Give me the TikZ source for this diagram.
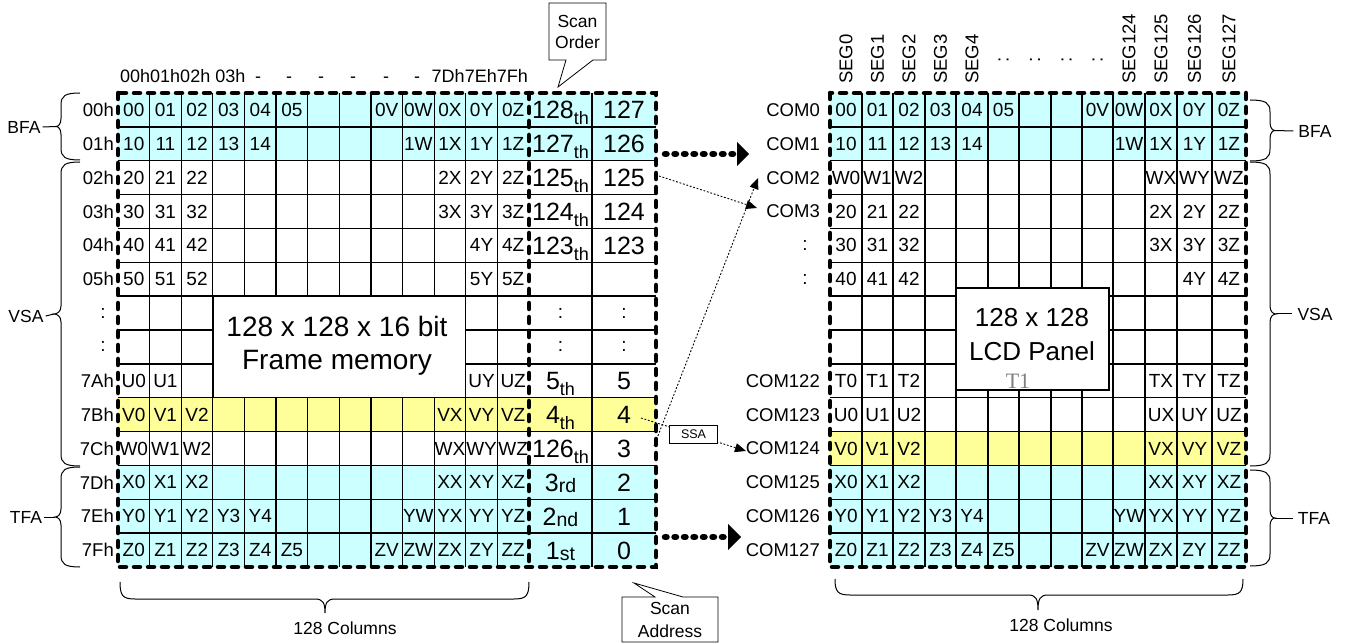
\documentclass[tikz,border=0pt]{standalone}
\usepackage{fontspec}
\setmainfont{Liberation Sans}
\newfontfamily\tserif{Liberation Serif}
\usetikzlibrary{arrows.meta}
\definecolor{cyanfill}{HTML}{CCFFFF}
\definecolor{yelfill}{HTML}{FFFF99}
\newcommand\fs[1]{\fontsize{#1}{#1}\selectfont}
\newcommand\suf[1]{\raisebox{-6pt}{\fs{18}#1}}
\newcommand\sufb[1]{\raisebox{-1.5pt}{\fs{19.5}#1}}
\newcommand\rcx{{846,877.5,909,940.5,972,1003.5,1035,1066.5,1097.5,1129,1161,1194.5,1229}}
\newcommand\Lcells[2]{\foreach \c/\t in {#2}{\node[cell] (L-#1-\c) at ({118+(\c+0.5)*31.615},{93+(#1+0.5)*33.857}) {\t};}}
\newcommand\Rcells[2]{\foreach \c/\t in {#2}{\pgfmathsetmacro\rxx{\rcx[\c]}\node[cell] (R-#1-\c) at (\rxx,{93+(#1+0.5)*33.857}) {\t};}}
% side brace: #1 end x, #2 vertical x, #3 tip x, #4 y1, #5 y2, #6 tip name
\newcommand\SBrace[6]{%
 \pgfmathsetmacro\bym{(#4+#5)/2}
 \draw[bracestyle] (#1,#4) .. controls ({#2+0.2*(#1-#2)},#4) and (#2,{#4+3}) .. (#2,{#4+12})
   -- (#2,{\bym-8}) .. controls (#2,{\bym-2}) and ({#3+0.4*(#2-#3)},\bym) .. (#3,\bym) coordinate (#6)
   .. controls ({#3+0.4*(#2-#3)},\bym) and (#2,{\bym+2}) .. (#2,{\bym+8})
   -- (#2,{#5-12}) .. controls (#2,{#5-3}) and ({#2+0.2*(#1-#2)},#5) .. (#1,#5);}
% down brace: #1 x1, #2 x2, #3 tip x, #4 end y, #5 horizontal y, #6 tip y, #7 name
\newcommand\DBrace[7]{%
 \draw[bracestyle] (#1,#4) .. controls (#1,{#5-3}) and ({#1+3},#5) .. ({#1+15},#5)
   -- ({#3-10},#5) .. controls ({#3-2},#5) and (#3,{#5+4}) .. (#3,#6) coordinate (#7)
   .. controls (#3,{#5+4}) and ({#3+2},#5) .. ({#3+10},#5)
   -- ({#2-15},#5) .. controls ({#2-3},#5) and (#2,{#5-3}) .. (#2,#4);}
\tikzset{
 cell/.style={inner sep=0pt, font=\fs{19}},
 rowlab/.style={inner sep=0pt, anchor=east, font=\fs{18.5}},
 big/.style={inner sep=0pt, anchor=base, font=\fs{25}},
 lab/.style={inner sep=0pt, font=\fs{17.5}},
 hdr/.style={inner sep=0pt, anchor=base, font=\fs{18}},
 seg/.style={inner sep=0pt, rotate=90, anchor=west, font=\fs{18.5}},
 gridline/.style={line width=1.3pt},
 border/.style={line width=4.5pt, dash pattern=on 6pt off 8pt, line cap=round},
 thickdots/.style={line width=6.5pt, dash pattern=on 1.5pt off 8pt, line cap=round},
 thindots/.style={line width=0.9pt, dash pattern=on 1.8pt off 1.8pt, -{Triangle[length=11pt,width=9pt]}},
 bracestyle/.style={line width=1pt},
 callout/.style={fill=white, line width=0.8pt},
}
\begin{document}
\begin{tikzpicture}[x=1pt,y=-1pt]
\useasboundingbox (0,0) rectangle (1350,644);
% fills
\fill[cyanfill] (118,93) rectangle (656,160.71);
\fill[yelfill] (118,397.71) rectangle (656,431.57);
\fill[cyanfill] (118,465.43) rectangle (656,567);
\fill[cyanfill] (830,93) rectangle (1246,160.71);
\fill[yelfill] (830,431.57) rectangle (1246,465.43);
\fill[cyanfill] (830,465.43) rectangle (1246,567);
% grid lines
\foreach \i in {1,...,12} \draw[gridline] ({118+\i*31.615},93) -- ({118+\i*31.615},567);
\draw[gridline] (592,93) -- (592,567);
\foreach \j in {1,...,13} \draw[gridline] (118,{93+\j*33.857}) -- (656,{93+\j*33.857});
\foreach \x in {862,893,925,956,988,1019,1051,1082,1113,1145,1177,1212} \draw[gridline] (\x,93) -- (\x,567);
\foreach \j in {1,...,13} \draw[gridline] (830,{93+\j*33.857}) -- (1246,{93+\j*33.857});
% white boxes
\draw[gridline, fill=white] (212.85,296.14) rectangle (465.77,397.71);
\draw[gridline, fill=white] (956,288) rectangle (1109,390);
\node[inner sep=0pt, align=center, font=\fontsize{28}{33}\selectfont] (fm) at (337,346) {128 x 128 x 16 bit\\Frame memory};
\node[inner sep=0pt, align=center, font=\fontsize{26}{34}\selectfont] (lcd) at (1032,335) {128 x 128\\LCD Panel};
\node[inner sep=0pt, text=gray, font=\tserif\fs{22}] (t1) at (1018,381) {T1};
% dashed borders
\draw[border] (118,93) rectangle (656,567);
\draw[border] (529,93) -- (529,567);
\draw[border] (830,93) rectangle (1246,567);
% left cells
\Lcells{0}{0/00,1/01,2/02,3/03,4/04,5/05,8/0V,9/0W,10/0X,11/0Y,12/0Z}
\Lcells{1}{0/10,1/11,2/12,3/13,4/14,9/1W,10/1X,11/1Y,12/1Z}
\Lcells{2}{0/20,1/21,2/22,10/2X,11/2Y,12/2Z}
\Lcells{3}{0/30,1/31,2/32,10/3X,11/3Y,12/3Z}
\Lcells{4}{0/40,1/41,2/42,11/4Y,12/4Z}
\Lcells{5}{0/50,1/51,2/52,11/5Y,12/5Z}
\Lcells{8}{0/U0,1/U1,11/UY,12/UZ}
\Lcells{9}{0/V0,1/V1,2/V2,10/VX,11/VY,12/VZ}
\Lcells{10}{0/W0,1/W1,2/W2,10/WX,11/WY,12/WZ}
\Lcells{11}{0/X0,1/X1,2/X2,10/XX,11/XY,12/XZ}
\Lcells{12}{0/Y0,1/Y1,2/Y2,3/Y3,4/Y4,9/YW,10/YX,11/YY,12/YZ}
\Lcells{13}{0/Z0,1/Z1,2/Z2,3/Z3,4/Z4,5/Z5,8/ZV,9/ZW,10/ZX,11/ZY,12/ZZ}
% right cells
\Rcells{0}{0/00,1/01,2/02,3/03,4/04,5/05,8/0V,9/0W,10/0X,11/0Y,12/0Z}
\Rcells{1}{0/10,1/11,2/12,3/13,4/14,9/1W,10/1X,11/1Y,12/1Z}
\Rcells{2}{0/W0,1/W1,2/W2,10/WX,11/WY,12/WZ}
\Rcells{3}{0/20,1/21,2/22,10/2X,11/2Y,12/2Z}
\Rcells{4}{0/30,1/31,2/32,10/3X,11/3Y,12/3Z}
\Rcells{5}{0/40,1/41,2/42,11/4Y,12/4Z}
\Rcells{8}{0/T0,1/T1,2/T2,10/TX,11/TY,12/TZ}
\Rcells{9}{0/U0,1/U1,2/U2,10/UX,11/UY,12/UZ}
\Rcells{10}{0/V0,1/V1,2/V2,10/VX,11/VY,12/VZ}
\Rcells{11}{0/X0,1/X1,2/X2,10/XX,11/XY,12/XZ}
\Rcells{12}{0/Y0,1/Y1,2/Y2,3/Y3,4/Y4,9/YW,10/YX,11/YY,12/YZ}
\Rcells{13}{0/Z0,1/Z1,2/Z2,3/Z3,4/Z4,5/Z5,8/ZV,9/ZW,10/ZX,11/ZY,12/ZZ}
% scan order / address
\foreach \r/\t in {0/128\suf{th},1/127\suf{th},2/125\suf{th},3/124\suf{th},4/123\suf{th},8/5\suf{th},9/4\suf{th},10/126\suf{th},11/3\sufb{rd},12/2\sufb{nd},13/1\sufb{st}}
  \node[big] (S-\r) at (560.5,{93+(\r+0.5)*33.857+9}) {\t};
\foreach \r/\t in {0/127,1/126,2/125,3/124,4/123,8/5,9/4,10/3,11/2,12/1,13/0}
  \node[big] (A-\r) at (624,{93+(\r+0.5)*33.857+9}) {\t};
\foreach \r in {6,7}{
  \node[cell] (S-\r) at (560.5,{93+(\r+0.5)*33.857}) {:};
  \node[cell] (A-\r) at (624,{93+(\r+0.5)*33.857}) {:};
  \node[cell] (LL-\r) at (103,{93+(\r+0.5)*33.857}) {:};}
% row labels
\foreach \r/\t in {0/00h,1/01h,2/02h,3/03h,4/04h,5/05h,8/7Ah,9/7Bh,10/7Ch,11/7Dh,12/7Eh,13/7Fh}
  \node[rowlab] (LL-\r) at (114,{93+(\r+0.5)*33.857}) {\t};
\foreach \r/\t in {0/COM0,1/COM1,2/COM2,3/COM3,8/COM122,9/COM123,10/COM124,11/COM125,12/COM126,13/COM127}
  \node[rowlab] (RL-\r) at (820,{93+(\r+0.5)*33.857}) {\t};
\foreach \r in {4,5}
  \node[cell] (RL-\r) at (805,{93+(\r+0.5)*33.857}) {:};
% column headers
\node[hdr, anchor=base west] (h1) at (120,82.5) {00h01h02h 03h};
\foreach \x [count=\i] in {258,289,321,353,386,417} \node[hdr] (hd\i) at (\x,82.5) {-};
\node[hdr, anchor=base east] (h2) at (528,82.5) {7Dh7Eh7Fh};
\foreach \c/\t in {0/SEG0,1/SEG1,2/SEG2,3/SEG3,4/SEG4,9/SEG124,10/SEG125,11/SEG126,12/SEG127}{
  \pgfmathsetmacro\rxx{\rcx[\c]}\node[seg] (seg-\c) at (\rxx,84) {\t};}
\foreach \c in {5,...,8}{
  \pgfmathsetmacro\rxx{\rcx[\c]}\node[cell, rotate=90] (dot-\c) at (\rxx,60) {:};}
% braces
\SBrace{80}{61}{56}{93}{160}{lbt1}
\SBrace{80}{61}{54}{162}{466}{lbt2}
\SBrace{80}{61}{55}{467}{567}{lbt3}
\node[lab] (bfaL) at (24,127) {BFA};
\node[lab] (vsaL) at (26,316) {VSA};
\node[lab] (tfaL) at (26,517) {TFA};
\draw[bracestyle] ([xshift=2pt]bfaL.east) -- (lbt1);
\draw[bracestyle] ([xshift=2pt]vsaL.east) -- (lbt2);
\draw[bracestyle] ([xshift=2pt]tfaL.east) -- (lbt3);
\SBrace{1250}{1270}{1275}{100}{161}{rbt1}
\SBrace{1250}{1270}{1276}{162}{466}{rbt2}
\SBrace{1250}{1270}{1275}{470}{566}{rbt3}
\node[lab] (bfaR) at (1315,131) {BFA};
\node[lab] (vsaR) at (1315,314) {VSA};
\node[lab] (tfaR) at (1314,518) {TFA};
\draw[bracestyle] (rbt1) -- ([xshift=-5pt]bfaR.west);
\draw[bracestyle] (rbt2) -- ([xshift=-5pt]vsaR.west);
\draw[bracestyle] (rbt3) -- ([xshift=-5pt]tfaR.west);
\DBrace{120}{529}{325}{582}{599}{613}{lbb}
\DBrace{835}{1243}{1038}{579}{595}{610}{rbb}
\node[lab] (colL) at (345,628) {128 Columns};
\node[lab] (colR) at (1061,625) {128 Columns};
% callouts
\draw[callout] (549,3) -- (606,3) -- (606,60) -- (593,60) -- (558,87) -- (566,60) -- (549,60) -- cycle;
\node[lab, align=center, font=\fontsize{17.5}{21}\selectfont] (so) at (577.5,32) {Scan\\Order};
\draw[callout] (622,597) -- (655,597) -- (634,583) -- (683,597) -- (718,597) -- (718,642) -- (622,642) -- cycle;
\node[lab, align=center, font=\fontsize{17.5}{23}\selectfont] (sa) at (670,619.5) {Scan\\Address};
% thick dotted arrows
\coordinate (k1s) at (665,154); \coordinate (k1e) at (734,154);
\draw[thickdots] (k1s) -- (k1e);
\fill (737,142) -- (749,154) -- (737,166) -- cycle;
\coordinate (k2s) at (665,537); \coordinate (k2e) at (724,537);
\draw[thickdots] (k2s) -- (k2e);
\fill (728,524) -- (741,537) -- (728,550) -- cycle;
% thin dotted arrows
\coordinate (d1s) at (659,176); \coordinate (d1e) at (757,208);
\draw[thindots] (d1s) -- (d1e);
\coordinate (d2s) at (654,446); \coordinate (d2e) at (758,178);
\draw[thindots] (d2s) -- (d2e);
\coordinate (d3s) at (641,418); \coordinate (d3e) at (746,451);
\draw[thindots] (d3s) -- node[draw, fill=white, line width=0.8pt, solid, inner sep=0pt, minimum width=48pt, minimum height=18pt, font=\fs{12.5}] (ssa) {SSA} (d3e);
\end{tikzpicture}
\end{document}
